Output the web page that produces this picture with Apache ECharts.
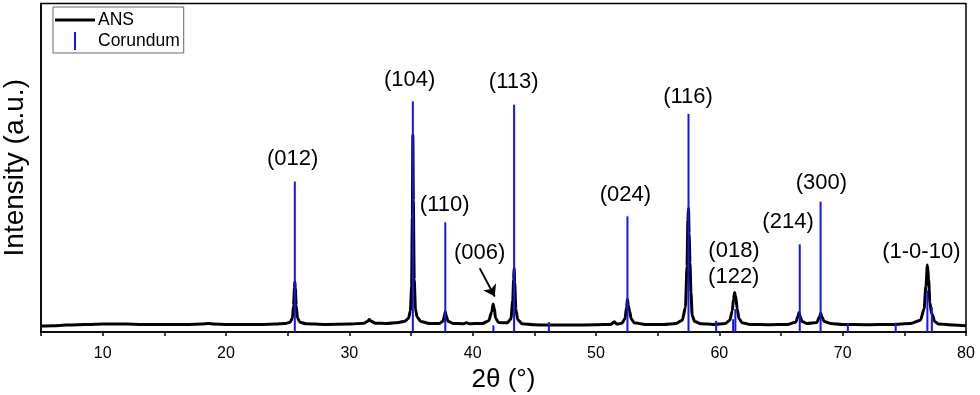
<!DOCTYPE html>
<html>
<head>
<meta charset="utf-8">
<script src="https://cdn.jsdelivr.net/npm/echarts@6/dist/echarts.min.js"></script>
<style>html,body{margin:0;padding:0;background:#fff}#c{width:980px;height:395px}</style>
</head>
<body>
<div id="c"></div>
<script>
// ANS measured pattern: [2theta, intensity]
const ansPattern = [
 [5.0,1.8],[6.0,1.9],[7.0,2.1],[8.0,2.2],[9.0,2.3],[10.0,2.4],[11.0,2.4],[12.0,2.4],[13.0,2.3],[14.0,2.3],
 [15.0,2.3],[16.0,2.3],[17.0,2.3],[18.0,2.4],[18.6,2.6],[19.0,2.4],[20.0,2.3],[21.0,2.3],[22.0,2.3],[23.0,2.3],
 [24.0,2.4],[24.8,2.6],[25.2,3.0],[25.38,4.2],[25.48,8.0],[25.55,13.5],[25.58,15.3],[25.62,13.5],[25.69,8.0],[25.8,4.2],
 [26.0,3.0],[26.5,2.5],[28.0,2.3],[30.0,2.4],[31.2,2.7],[31.5,3.3],[31.62,3.8],[31.75,3.3],[32.1,2.7],[33.0,2.6],
 [34.0,2.9],[34.5,3.3],[34.8,4.2],[34.95,6.5],[35.05,14],[35.11,35],[35.15,60.0],[35.19,40],[35.26,16],[35.36,7],
 [35.5,4.5],[35.8,3.2],[36.5,2.6],[37.3,2.6],[37.6,3.3],[37.72,5.2],[37.78,6.2],[37.85,5.0],[38.0,3.3],[38.4,2.6],
 [39.2,2.5],[39.5,2.8],[39.8,2.5],[40.8,2.6],[41.3,3.4],[41.55,6.2],[41.66,8.5],[41.74,7.5],[41.86,4.2],[42.1,2.9],
 [42.8,2.8],[43.1,4.0],[43.25,9.5],[43.32,16],[43.36,19.4],[43.41,15],[43.5,7],[43.65,3.8],[44.0,2.5],[45.0,2.2],
 [46.0,2.1],[48.0,2.1],[50.0,2.2],[51.2,2.3],[51.48,3.1],[51.7,2.4],[52.1,2.7],[52.35,4.0],[52.48,7.5],[52.55,10.0],
 [52.62,8.0],[52.72,6.5],[52.85,4.0],[53.1,2.8],[54.0,2.3],[55.5,2.3],[56.5,2.6],[57.0,3.6],[57.25,7.5],[57.38,20],
 [57.45,34],[57.5,37.7],[57.55,30],[57.62,21],[57.7,12],[57.8,5],[58.0,3.2],[58.5,2.5],[59.5,2.3],[60.5,2.6],
 [60.85,3.6],[61.05,6.5],[61.15,10],[61.24,12.0],[61.32,11],[61.45,7],[61.6,4],[61.85,2.8],[62.5,2.3],[64.0,2.2],
 [65.5,2.3],[66.2,3.0],[66.38,4.8],[66.46,5.9],[66.55,4.8],[66.7,3.2],[67.1,2.6],[67.9,2.9],[68.12,4.6],[68.22,5.7],
 [68.32,4.6],[68.5,3.2],[69.0,2.6],[70.0,2.3],[72.0,2.2],[74.0,2.3],[75.5,2.6],[76.3,3.6],[76.6,7],[76.75,14],
 [76.87,20.4],[76.97,16],[77.07,9],[77.2,5.8],[77.3,5],[77.45,3.2],[77.8,2.4],[79.0,2.1],[80.0,1.9]
];

// Corundum reference lines
const corundumPos = [25.58, 35.15, 37.78, 41.68, 43.36, 46.18, 52.55, 57.50, 59.74, 61.12, 61.30, 66.52, 68.21, 70.42, 74.30, 76.87, 77.23];
const corundumInt = [45.8, 70.2, 33.4, 2.0, 69.2, 3.0, 35.2, 66.4, 3.4, 3.9, 7.0, 26.7, 39.7, 2.7, 2.8, 12.6, 7.5];

// Peak annotations
const peakLabels = ['(012)', '(104)', '(110)', '(006)', '(113)', '(024)', '(116)', '(018)', '(122)', '(214)', '(300)', '(1-0-10)'];
const peakLabelX = [25.41, 34.89, 37.73, 40.57, 43.33, 52.39, 57.46, 61.19, 61.17, 65.57, 68.28, 76.38];
const peakLabelY = [52.7, 76.6, 38.7, 24.0, 76.1, 41.8, 71.7, 24.8, 16.9, 33.6, 45.3, 24.5];
const arrow006 = [[40.57, 19.4], [41.79, 10.8]];

const xTicks = {min: 5, max: 80, interval: 10};
const xLabel = '2θ (°)';
const yLabel = 'Intensity (a.u.)';
const seriesNames = ['ANS', 'Corundum'];

const FONT = 'Liberation Sans, Arial, Helvetica, sans-serif';
const chart = echarts.init(document.getElementById('c'), null, {renderer: 'canvas'});

const stickData = corundumPos.map((x, i) => [x, corundumInt[i]]);
const labelData = peakLabels.map((n, i) => ({name: n, value: [peakLabelX[i], peakLabelY[i]]}));

chart.setOption({
  animation: false,
  backgroundColor: '#fff',
  grid: {left: 41, right: 14, top: 3.5, bottom: 63, show: true, borderColor: '#000', borderWidth: 1.5,
    backgroundColor: 'transparent', containLabel: false, outerBoundsMode: 'none'},
  legend: {
    left: 53, top: 7, orient: 'vertical',
    data: [
      {name: seriesNames[0], icon: 'path://M0,0 M0,7.5 L40,7.5 L40,10.5 L0,10.5 Z M40,18'},
      {name: seriesNames[1], icon: 'path://M0,0 M19,0 L21,0 L21,18 L19,18 Z M40,18'}
    ],
    itemWidth: 40, itemHeight: 18, itemGap: 3, padding: [4, 4, 3, 2],
    borderColor: '#666', borderWidth: 1,
    itemStyle: {borderWidth: 0},
    textStyle: {fontFamily: FONT, fontSize: 17.5, color: '#000', padding: [0, 0, 0, -2]}
  },
  xAxis: {
    type: 'value', min: xTicks.min, max: xTicks.max, interval: 5,
    name: xLabel, nameLocation: 'middle', nameGap: 33,
    nameTextStyle: {fontFamily: FONT, fontSize: 26, color: '#000'},
    axisLine: {show: true, onZero: false, lineStyle: {color: '#000', width: 1.5}},
    axisTick: {show: true, inside: false, length: 4, lineStyle: {color: '#000', width: 1.5},
      interval: 0},
    axisLabel: {fontFamily: FONT, fontSize: 16, color: '#000', margin: 14,
      formatter: v => (v % xTicks.interval === 0 ? String(v) : '')},
    splitLine: {show: false}
  },
  yAxis: {
    type: 'value', min: 0, max: 100,
    name: yLabel, nameLocation: 'middle', nameGap: 12,
    nameTextStyle: {fontFamily: FONT, fontSize: 28, color: '#000'},
    axisLine: {show: true, lineStyle: {color: '#000', width: 1.5}},
    axisTick: {show: false}, axisLabel: {show: false}, splitLine: {show: false}
  },
  series: [
    {
      name: seriesNames[0], type: 'line', data: ansPattern, showSymbol: false, symbol: 'none',
      smooth: 0.25, smoothMonotone: 'x',
      color: '#000', lineStyle: {color: '#000', width: 3}, z: 2
    },
    {
      name: seriesNames[1], type: 'bar', data: stickData, barWidth: 2,
      color: '#1414f5', itemStyle: {color: '#1414f5'}, z: 3
    },
    {
      name: 'labels', type: 'scatter', data: labelData, symbolSize: 0, z: 4,
      itemStyle: {opacity: 1, color: '#000'},
      label: {show: true, position: 'inside', formatter: p => p.name, opacity: 1,
        fontFamily: FONT, fontSize: 22, color: '#000', textBorderWidth: 0, textBorderColor: 'transparent'},
      markLine: {
        silent: true, symbol: ['none', 'arrow'], symbolSize: 11,
        lineStyle: {color: '#000', width: 1.8, type: 'solid', opacity: 1},
        label: {show: false},
        data: [[{coord: arrow006[0]}, {coord: arrow006[1]}]]
      }
    }
  ]
});
</script>
</body>
</html>
